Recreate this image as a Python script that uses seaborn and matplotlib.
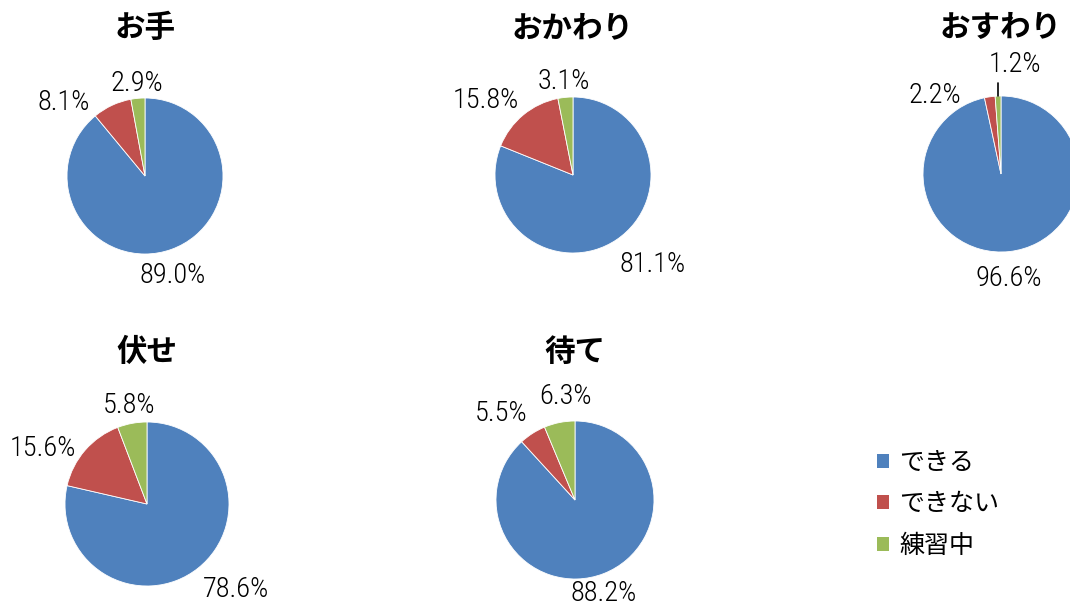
import numpy as np
import seaborn as sns
import matplotlib.pyplot as plt
from matplotlib.patches import Patch

# data
categories = ["できる", "できない", "練習中"]
titles = ["お手", "おかわり", "おすわり", "伏せ", "待て"]
can = [89.0, 81.1, 96.6, 78.6, 88.2]
cannot = [8.1, 15.8, 2.2, 15.6, 5.5]
practicing = [2.9, 3.1, 1.2, 5.8, 6.3]

colors = ["#4F81BD", "#C0504D", "#9BBB59"]

# layout (pixels, top-left origin) and label tweaks
W, H = 1070, 606
centers = [(145, 176), (573, 175), (1001, 174), (147, 504), (575, 500)]
radii = [78, 78, 78, 82, 79]
title_y = [28, 28, 28, 352, 352]
# per label: angle offset from slice middle (deg), distance in radii
label_nudge = [[-4.5, 23, 0], [7.6, 10, 0], [-2, 32, -9.5], [7.5, 13, 0], [-4, 8, -6]]
label_dist = [[1.32, 1.41, 1.19], [1.54, 1.47, 1.21], [1.34, 1.32, 1.41],
              [1.51, 1.44, 1.22], [1.235, 1.44, 1.31]]
leader = [None, None, 2, None, None]

sns.set_theme(style="white")
plt.rcParams['font.family'] = ['Noto Sans CJK JP', 'DejaVu Sans']
plt.rcParams['text.color'] = 'black'
num_font = ['Roboto Condensed', 'Liberation Sans Narrow', 'DejaVu Sans']

fig = plt.figure(figsize=(W / 100, H / 100), dpi=100)
L = 2.4

for i, title in enumerate(titles):
    cx, cy = centers[i]
    r = radii[i]
    half = L * r
    ax = fig.add_axes([(cx - half) / W, 1 - (cy + half) / H, 2 * half / W, 2 * half / H])
    vals = [can[i], cannot[i], practicing[i]]
    wedges, _ = ax.pie(vals, colors=colors, startangle=90, counterclock=False,
                       radius=1, wedgeprops=dict(edgecolor="white", linewidth=0.6))
    ax.set_xlim(-L, L)
    ax.set_ylim(-L, L)
    ax.set_axis_off()
    for j, w in enumerate(wedges):
        mid = (w.theta1 + w.theta2) / 2
        ang = np.deg2rad(mid + label_nudge[i][j])
        d = label_dist[i][j]
        ax.text(d * np.cos(ang), d * np.sin(ang), f"{vals[j]:.1f}%",
                ha="center", va="center", fontsize=20.5, family=num_font,
                fontstretch="condensed", fontweight="light", color="black")
        if leader[i] == j:
            m = np.deg2rad(mid)
            ax.plot([np.cos(m), np.cos(m)], [1.0, 1.17], color="black", lw=1.2)
    fig.text(cx / W, 1 - title_y[i] / H, title, ha="center", va="center",
             fontsize=22, fontweight="bold", color="black")

handles = [Patch(facecolor=c, edgecolor="none") for c in colors]
fig.legend(handles, categories, loc="upper left", bbox_to_anchor=(854 / W, 1 - 427 / H),
           frameon=False, fontsize=18, handlelength=0.5, handleheight=0.5,
           handletextpad=0.4, labelspacing=0.62)

fig.savefig("out.png", dpi=100)
